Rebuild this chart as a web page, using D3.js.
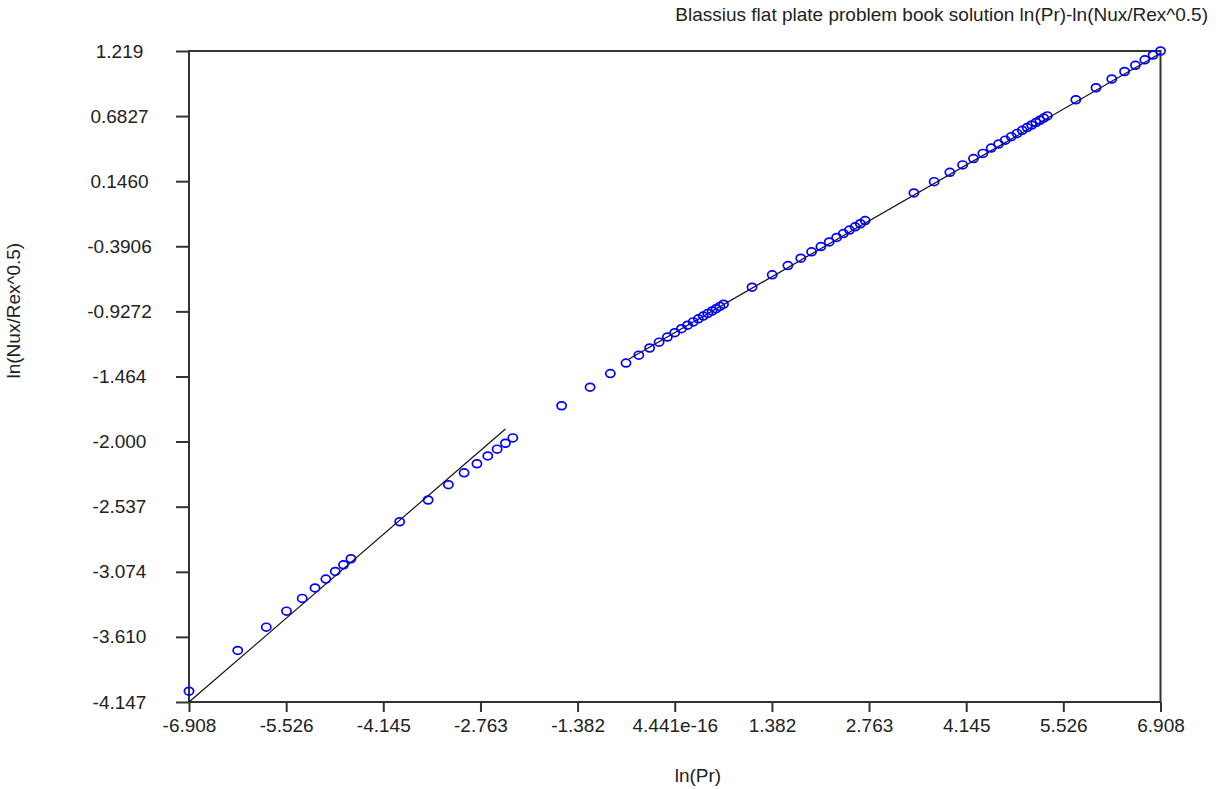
<!DOCTYPE html>
<html lang="en">
<head>
    <meta charset="UTF-8">
    <title>Blassius flat plate problem book solution</title>
    <script src="https://d3js.org/d3.v7.min.js"></script>
    <style>
        body {
            margin: 0;
            background: #fff;
        }
        svg text {
            font-family: Arial, "Liberation Sans", sans-serif;
            font-size: 19px;
            fill: #222;
        }
    </style>
</head>
<body>
    <div id="chart"></div>
    <script>
        // ln(Pr) of each book value
        const lnPr = [
            -6.908, -6.215, -5.809, -5.521, -5.298, -5.116, -4.962, -4.828, -4.711, -4.605,
            -3.912, -3.507, -3.219, -2.996, -2.813, -2.659, -2.526, -2.408, -2.303,
            -1.609, -1.204, -0.916, -0.693, -0.511, -0.357, -0.223, -0.105, 0,
            0.095, 0.182, 0.262, 0.336, 0.405, 0.470, 0.531, 0.588, 0.642, 0.693,
            1.099, 1.386, 1.609, 1.792, 1.946, 2.079, 2.197, 2.303,
            2.398, 2.485, 2.565, 2.639, 2.708,
            3.401, 3.689, 3.912, 4.094, 4.248, 4.382, 4.500, 4.605,
            4.700, 4.787, 4.868, 4.942, 5.011, 5.075, 5.136, 5.193, 5.247, 5.298,
            5.704, 5.991, 6.215, 6.397, 6.551, 6.685, 6.802, 6.908
        ];

        // ln(Nux/Rex^0.5)
        const lnNu = [
            -4.058, -3.722, -3.530, -3.398, -3.293, -3.207, -3.134, -3.071, -3.016, -2.966,
            -2.661, -2.482, -2.356, -2.258, -2.183, -2.119, -2.063, -2.014, -1.970,
            -1.705, -1.552, -1.440, -1.353, -1.288, -1.229, -1.181, -1.139, -1.103,
            -1.070, -1.041, -1.014, -0.989, -0.966, -0.944, -0.924, -0.905, -0.886, -0.868,
            -0.728, -0.626, -0.550, -0.489, -0.436, -0.393, -0.355, -0.318,
            -0.286, -0.257, -0.230, -0.205, -0.179,
            0.049, 0.142, 0.219, 0.280, 0.332, 0.375, 0.419, 0.452,
            0.484, 0.513, 0.540, 0.565, 0.588, 0.609, 0.629, 0.648, 0.666, 0.684,
            0.817, 0.916, 0.988, 1.050, 1.101, 1.146, 1.185, 1.219
        ];

        // fitted lines, end points
        const lowFitX = [-6.908, -2.408];
        const lowFitY = [-4.147, -1.897];
        const highFitX = [-0.65, 6.908];
        const highFitY = [-1.319, 1.200];

        // axis ticks
        const xTicks = [-6.908, -5.526, -4.145, -2.763, -1.382, 0, 1.382, 2.763, 4.145, 5.526, 6.908];
        const xTickLabels = ["-6.908", "-5.526", "-4.145", "-2.763", "-1.382", "4.441e-16",
            "1.382", "2.763", "4.145", "5.526", "6.908"];
        const yTicks = [-4.147, -3.610, -3.074, -2.537, -2.000, -1.464, -0.9272, -0.3906, 0.1460, 0.6827, 1.219];
        const yTickLabels = ["-4.147", "-3.610", "-3.074", "-2.537", "-2.000", "-1.464",
            "-0.9272", "-0.3906", "0.1460", "0.6827", "1.219"];

        const width = 1222;
        const height = 789;
        const margin = { top: 51, right: 61.5, bottom: 87, left: 189 };
        const plotW = width - margin.left - margin.right;
        const plotH = height - margin.top - margin.bottom;
        const axisColor = "#333";

        const svg = d3.select("#chart")
            .append("svg")
            .attr("width", width)
            .attr("height", height);

        const chart = svg.append("g")
            .attr("transform", `translate(${margin.left}, ${margin.top})`);

        // Scales
        const x = d3.scaleLinear().domain([-6.908, 6.908]).range([0, plotW]);
        const y = d3.scaleLinear().domain([-4.147, 1.219]).range([plotH, 0]);

        // Frame
        chart.append("rect")
            .attr("width", plotW)
            .attr("height", plotH)
            .attr("fill", "none")
            .attr("stroke", axisColor)
            .attr("stroke-width", 2);

        // Axes
        const xAxis = chart.append("g")
            .attr("transform", `translate(0, ${plotH})`)
            .call(d3.axisBottom(x)
                .tickValues(xTicks)
                .tickFormat((d, i) => xTickLabels[i])
                .tickSize(10)
                .tickSizeOuter(0)
                .tickPadding(7));

        const yAxis = chart.append("g")
            .call(d3.axisLeft(y)
                .tickValues(yTicks)
                .tickFormat((d, i) => yTickLabels[i])
                .tickSize(13)
                .tickSizeOuter(0));

        yAxis.selectAll(".tick text")
            .attr("x", -69.5)
            .attr("text-anchor", "middle");

        [xAxis, yAxis].forEach(g => {
            g.select(".domain").remove();
            g.selectAll(".tick line")
                .attr("stroke", axisColor)
                .attr("stroke-width", 2);
        });

        // Fit lines
        const line = d3.line()
            .x(d => x(d[0]))
            .y(d => y(d[1]));

        chart.append("path")
            .datum(d3.zip(lowFitX, lowFitY))
            .attr("fill", "none")
            .attr("stroke", "#111")
            .attr("stroke-width", 1.2)
            .attr("d", line);

        chart.append("path")
            .datum(d3.zip(highFitX, highFitY))
            .attr("fill", "none")
            .attr("stroke", "#111")
            .attr("stroke-width", 1.2)
            .attr("d", line);

        // Points
        chart.selectAll(".pt")
            .data(d3.zip(lnPr, lnNu))
            .enter()
            .append("ellipse")
            .attr("class", "pt")
            .attr("cx", d => x(d[0]))
            .attr("cy", d => y(d[1]))
            .attr("rx", 4.6)
            .attr("ry", 3.9)
            .attr("fill", "none")
            .attr("stroke", "#0000ff")
            .attr("stroke-width", 1.7);

        // Titles
        svg.append("text")
            .attr("x", 1208)
            .attr("y", 21)
            .attr("text-anchor", "end")
            .text("Blassius flat plate problem book solution ln(Pr)-ln(Nux/Rex^0.5)");

        svg.append("text")
            .attr("x", margin.left + plotW / 2)
            .attr("y", 782)
            .text("ln(Pr)");

        svg.append("text")
            .attr("transform", `translate(20, ${margin.top + plotH / 2 + 2}) rotate(-90)`)
            .text("ln(Nux/Rex^0.5)");
    </script>
</body>
</html>
